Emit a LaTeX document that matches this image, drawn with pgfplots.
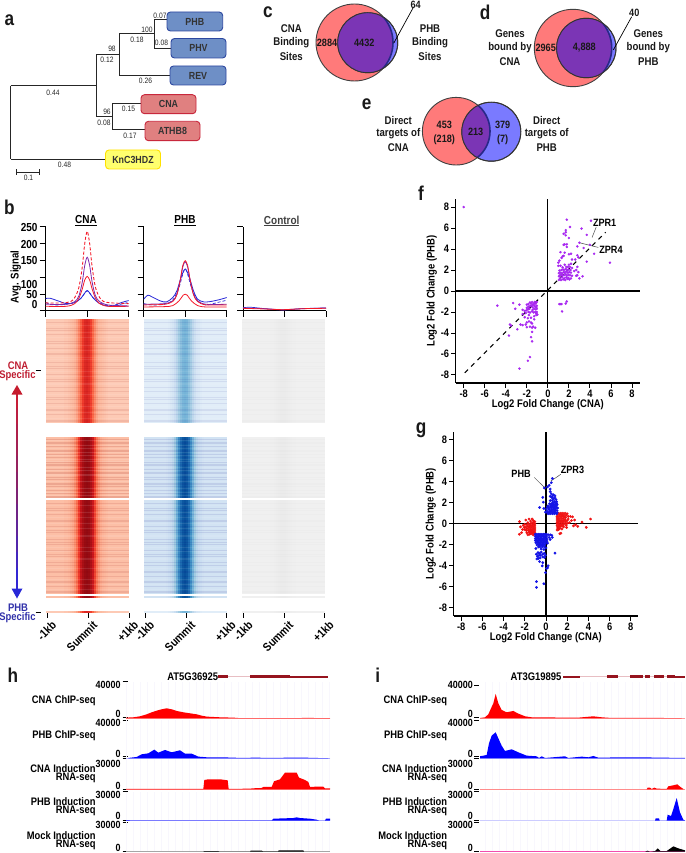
\documentclass[border=0pt]{standalone}
\usepackage{fontspec}
\usepackage{pgfplots}
\usepackage{pgfplotstable}
\pgfplotsset{compat=1.18}
\setmainfont{Liberation Sans}[FakeStretch=0.86]
\newcommand\fs[1]{\fontsize{#1}{#1}\selectfont}

\definecolor{vred}{RGB}{255,122,122}
\definecolor{vblue}{RGB}{122,122,255}
\definecolor{vpurple}{RGB}{123,53,181}
\definecolor{boxblue}{RGB}{110,143,198}
\definecolor{boxbluee}{RGB}{45,72,160}
\definecolor{boxred}{RGB}{224,128,128}
\definecolor{boxrede}{RGB}{200,40,60}
\definecolor{boxyel}{RGB}{255,255,110}
\definecolor{boxyele}{RGB}{255,225,0}
\definecolor{cnared}{RGB}{190,30,50}
\definecolor{phbblue}{RGB}{50,50,170}
\definecolor{genered}{RGB}{150,20,30}
\definecolor{genepale}{RGB}{232,190,195}
\definecolor{sigred}{RGB}{245,25,40}
\definecolor{sigpurple}{RGB}{125,40,170}
\definecolor{sigblue}{RGB}{40,40,215}
\definecolor{ptpurple}{RGB}{168,40,240}
\definecolor{ptblue}{RGB}{20,20,230}
\definecolor{ptred}{RGB}{240,20,20}
\definecolor{trackgrid}{RGB}{248,247,253}

\pgfplotsset{
  colormap={hreds}{rgb255=(255,245,240) rgb255=(254,224,210) rgb255=(252,187,161) rgb255=(252,146,114) rgb255=(251,106,74) rgb255=(239,59,44) rgb255=(203,24,29) rgb255=(165,15,21) rgb255=(103,0,13)},
  colormap={hblues}{rgb255=(247,251,255) rgb255=(222,235,247) rgb255=(198,219,239) rgb255=(158,202,225) rgb255=(107,174,214) rgb255=(66,146,198) rgb255=(33,113,181) rgb255=(8,81,156) rgb255=(8,48,107)},
  colormap={hgreys}{rgb255=(255,255,255) rgb255=(245,245,245) rgb255=(235,235,235) rgb255=(225,225,225) rgb255=(215,215,215) rgb255=(205,205,205) rgb255=(195,195,195) rgb255=(185,185,185) rgb255=(175,175,175)},
  colormap={arrowmap}{rgb255=(205,30,50) rgb255=(130,35,110) rgb255=(40,40,225)},
  pixel page/.style={at={(0pt,0pt)},anchor=south west,scale only axis,width=685pt,height=853pt,
    xmin=0,xmax=685,ymin=0,ymax=853,y dir=reverse,hide axis,clip=false},
  scatter panel/.style={anchor=south west,scale only axis,axis x line*=bottom,axis y line*=left,
    xtick={-8,-6,...,8},ytick={-8,-6,...,8},tick align=outside,major tick length=4.6pt,
    axis line style={line width=1.1pt,-},tick style={line width=.9pt,black},
    tick label style={font=\bfseries\fs{10.8},/pgf/number format/assume math mode=true},
    xticklabel style={yshift=1.5pt},yticklabel style={xshift=1.5pt},
    xlabel={\bfseries\fs{11}Log2 Fold Change (CNA)},ylabel={\bfseries\fs{11}Log2 Fold Change (PHB)},
    x label style={at={(axis description cs:.5,0)},anchor=center,yshift=-22pt},clip=false}
}

\pgfdeclareplotmark{strip}{%
  \pgfpathrectangle{\pgfqpoint{-1.3pt}{-\pgfplotmarksize}}{\pgfqpoint{2.6pt}{2\pgfplotmarksize}}%
  \pgfusepathqfill}

% heat map intensities across the window, one column per block type
\pgfplotstableread{
x y ra rb ba bb gr
-1.00 50 1.6 1.9 0.9 1.5 1.5
-0.95 50 1.6 1.9 0.9 1.5 1.5
-0.90 50 1.6 1.9 0.9 1.5 1.5
-0.85 50 1.6 1.9 0.9 1.5 1.5
-0.80 50 1.6 1.9 0.9 1.5 1.5
-0.75 50 1.6 1.9 0.9 1.5 1.5
-0.70 50 1.6 1.9 0.9 1.5 1.5
-0.65 50 1.6 1.9 0.9 1.5 1.5
-0.60 50 1.6 1.9 0.9 1.5 1.5
-0.55 50 1.7 2.0 0.9 1.5 1.5
-0.50 50 1.7 2.0 0.9 1.5 1.5
-0.45 50 1.8 2.1 0.9 1.6 1.5
-0.40 50 1.9 2.3 1.0 1.8 1.5
-0.35 50 2.0 2.5 1.2 2.0 1.5
-0.30 50 2.2 3.0 1.4 2.3 1.6
-0.25 50 2.6 3.8 1.8 3.0 1.6
-0.20 50 3.3 5.0 2.3 4.0 1.7
-0.15 50 4.2 6.2 2.9 5.2 1.8
-0.10 50 5.0 6.9 3.4 6.2 1.9
-0.05 50 5.5 7.2 3.7 6.8 2.0
 0.00 50 5.6 7.3 3.8 7.0 2.0
 0.05 50 5.4 7.2 3.7 6.8 2.0
 0.10 50 4.9 6.8 3.3 6.1 1.9
 0.15 50 4.0 6.0 2.8 5.0 1.8
 0.20 50 3.1 4.8 2.2 3.8 1.7
 0.25 50 2.5 3.6 1.7 2.9 1.6
 0.30 50 2.1 2.9 1.3 2.3 1.6
 0.35 50 2.0 2.4 1.2 2.0 1.5
 0.40 50 1.9 2.2 1.0 1.8 1.5
 0.45 50 1.8 2.1 0.9 1.6 1.5
 0.50 50 1.7 2.0 0.9 1.5 1.5
 0.55 50 1.6 1.9 0.9 1.5 1.5
 0.60 50 1.6 1.9 0.9 1.5 1.5
 0.65 50 1.6 1.9 0.9 1.5 1.5
 0.70 50 1.6 1.9 0.9 1.5 1.5
 0.75 50 1.6 1.9 0.9 1.5 1.5
 0.80 50 1.6 1.9 0.9 1.5 1.5
 0.85 50 1.6 1.9 0.9 1.5 1.5
 0.90 50 1.6 1.9 0.9 1.5 1.5
 0.95 50 1.6 1.9 0.9 1.5 1.5
 1.00 50 1.6 1.9 0.9 1.5 1.5
}\heatprof

% row positions of the darker and paler streaks
\pgfplotstableread[row sep=\\]{
y l r\\ 1.5 -1.03 1.03\\ 3 -1.03 1.03\\ 8 -1.03 1.03\\ 12 -1.03 1.03\\ 13.5 -1.03 1.03\\ 19 -1.03 1.03\\ 23 -1.03 1.03\\ 24.5 -1.03 1.03\\ 31 -1.03 1.03\\ 34 -1.03 1.03\\ 40 -1.03 1.03\\ 42 -1.03 1.03\\ 47 -1.03 1.03\\ 53 -1.03 1.03\\ 55 -1.03 1.03\\ 58 -1.03 1.03\\ 66 -1.03 1.03\\ 67.5 -1.03 1.03\\ 72 -1.03 1.03\\ 77 -1.03 1.03\\ 78.5 -1.03 1.03\\ 85 -1.03 1.03\\ 89 -1.03 1.03\\ 91 -1.03 1.03\\ 97 -1.03 1.03\\
}\streakdark
\pgfplotstableread[row sep=\\]{
y l r\\ 5 -1.03 1.03\\ 10 -1.03 1.03\\ 16 -1.03 1.03\\ 27.5 -1.03 1.03\\ 37 -1.03 1.03\\ 38.5 -1.03 1.03\\ 45 -1.03 1.03\\ 50 -1.03 1.03\\ 61 -1.03 1.03\\ 63 -1.03 1.03\\ 70 -1.03 1.03\\ 75 -1.03 1.03\\ 82 -1.03 1.03\\ 87 -1.03 1.03\\ 94 -1.03 1.03\\
}\streaklight

% genome browser tracks, x in window position, y in reads
\pgfplotstableread{
x y
378 730
400 1090
420 2180
440 4370
455 6550
470 8370
485 9830
500 10920
515 9830
530 8010
550 6550
570 5460
590 4370
605 2910
620 1820
640 1460
660 1090
700 730
712 360
720 180
800 180
930 360
990 180
}\hone
\pgfplotstableread{
x y
385 350
410 1390
425 4180
445 5220
463 9050
475 5920
495 8700
515 6260
540 8350
555 4870
575 4870
595 1740
620 1040
660 1040
700 700
720 350
770 700
800 350
880 700
910 700
950 350
990 0
}\htwo
\pgfplotstableread{
x y
378 330
610 330
613 9240
625 9900
660 9900
683 8910
686 330
750 660
760 990
785 1320
790 2310
815 2310
822 7920
840 9900
855 16500
890 16500
897 11550
915 9240
925 7260
930 2310
950 2640
970 2640
975 990
990 990
}\hthree
\pgfplotstableread{
x y
378 690
395 345
815 345
820 2070
850 2415
880 2760
890 3450
900 2760
930 2070
950 1035
958 0
975 0
978 2070
990 2070
}\hfour
\pgfplotstableread{
x y
610 0
612 600
655 600
658 0
750 0
752 1000
785 1000
790 300
834 300
836 1330
910 1330
912 0
}\hfive
\pgfplotstableread{
x y
405 360
420 1090
430 4370
438 10920
445 16380
452 26570
460 16380
470 9100
485 6550
505 8010
520 5100
540 2180
560 1090
580 1090
600 1090
650 730
700 730
745 2180
770 1090
800 360
950 360
1020 0
}\ione
\pgfplotstableread{
x y
405 2090
425 3480
432 15660
440 23660
452 27140
460 20880
470 13220
480 7660
500 9400
520 6260
545 2780
575 2090
582 350
590 2090
600 350
660 2090
670 350
710 1740
730 1040
745 2440
760 700
850 1040
880 1040
945 700
1020 350
}\itwo
\pgfplotstableread{
x y
905 0
908 1650
915 1650
920 330
928 1650
935 660
965 330
970 2970
985 3960
997 4950
1005 2640
1015 330
}\ithree
\pgfplotstableread{
x y
930 0
932 2415
942 2415
944 0
965 0
968 6210
978 4830
985 12075
995 23460
1005 8625
1015 1035
1020 345
}\ifour
\pgfplotstableread{
x y
900 0
908 1000
915 0
930 660
938 3330
946 660
965 660
985 5330
1000 3330
1020 1330
}\ifive

% one heat map block: left, top, width, height, half height, map, column, streak colour, streak opacity
\newcommand\heat[9]{%
\begin{axis}[at={(#1pt,{(853-#2)*1pt})},anchor=north west,scale only axis,width=#3pt,height=#4pt,
  xmin=-1.03,xmax=1.03,ymin=0,ymax=100,hide axis,colormap name=#6,point meta min=0,point meta max=8,clip mode=individual]
\addplot[scatter,only marks,mark=strip,mark size=#5pt,scatter src=explicit] table[x=x,y=y,meta=#7] {\heatprof};
\addplot[xcomb,draw=#8,opacity=#9,line width=.5pt] table[x=l,y=y] {\streakdark};
\addplot[xcomb,draw=#8,opacity=#9,line width=.5pt] table[x=r,y=y] {\streakdark};
\addplot[xcomb,draw=white,opacity=#9,line width=.5pt] table[x=l,y=y] {\streaklight};
\addplot[xcomb,draw=white,opacity=#9,line width=.5pt] table[x=r,y=y] {\streaklight};
\end{axis}}

% browser track: top, base, ymax, fill, baseline colour, table; window set by \trackh or \tracki
\newcommand\trackh{\def\tl{126}\def\tw{204}\def\xa{378}\def\xb{990}}
\newcommand\tracki{\def\tl{480}\def\tw{205}\def\xa{405}\def\xb{1020}}
\newcommand\track[6]{%
\begin{axis}[at={(\tl pt,{(853-#2)*1pt})},anchor=south west,scale only axis,width=\tw pt,height={(#2-#1)*1pt},
  xmin=\xa,xmax=\xb,ymin=0,ymax=#3,axis line style={draw=none},ytick=\empty,xtick distance=21,
  xticklabels={},major tick length=0pt,xmajorgrids,major grid style={trackgrid,line width=.8pt},clip=false]
\addplot[draw=#5,line width=.7pt] coordinates {(\xa,0) (\xb,0)};
\addplot[fill=#4,draw=none] table[x=x,y=y] {#6} \closedcycle;
\end{axis}}

% average signal panel: left, curves
\newcommand\profaxis[2]{%
\begin{axis}[at={(#1pt,{(853-311)*1pt})},anchor=south west,scale only axis,width=83pt,height=84pt,
  xmin=-1,xmax=1,ymin=0,ymax=250,axis x line*=bottom,axis y line*=left,xtick={-1,0,1},ytick={0,50,100,150,200,250},
  xticklabels={},yticklabels={},tick align=outside,major tick length=6pt,axis line style={line width=1pt,-},tick style={line width=1pt,black},clip=false]
#2
\end{axis}}

% small label helpers, used inside the page-wide axis
\newcommand\bt[4]{\node[font=\bfseries\fs{#1},text=black!90,inner sep=0pt] at (axis cs:#2,#3) {#4};}
\newcommand\bre[4]{\node[font=\bfseries\fs{#1},anchor=east,inner sep=0pt] at (axis cs:#2,#3) {#4};}
\newcommand\nb[3]{\node[font=\fs{7.8},text=black!85,inner sep=0pt] at (axis cs:#1,#2) {#3};}
\newcommand\gbox[7]{\filldraw[fill=#5,draw=#6,line width=.9pt,rounded corners=3.5pt] (axis cs:#1,#2) rectangle (axis cs:#3,#4);
  \node[font=\bfseries\fs{10.3},text=black!80,inner sep=0pt] at (axis cs:{(#1+#3)/2},{(#2+#4)/2}) {#7};}
\newcommand\rk[2]{\node[font=\bfseries\fs{11.8},rotate=45,anchor=north east,inner sep=0pt] at (axis cs:#1,620) {#2};}
\newcommand\venn[6]{% red x, y, r; blue x, y, r
\begin{scope}
\clip (axis cs:#4,#5) circle [radius=#6pt];
\fill[vpurple] (axis cs:#1,#2) circle [radius=#3pt];
\draw[phbblue!80!black,line width=1.6pt] (axis cs:#1,#2) circle [radius=#3pt];
\end{scope}
\draw[black!80,line width=.9pt] (axis cs:#4,#5) circle [radius=#6pt];}
\newcommand\tracklabels[4]{%
\bre{11}{#4}{677}{#3}
\bre{10.9}{#1}{700.7}{CNA ChIP-seq}
\bre{10.9}{#1}{736}{PHB ChIP-seq}
\bre{10.9}{#1}{768.5}{CNA Induction}
\bre{10.9}{#1}{778}{RNA-seq}
\bre{10.9}{#1}{801.3}{PHB Induction}
\bre{10.9}{#1}{811}{RNA-seq}
\bre{10.9}{#1}{835.7}{Mock Induction}
\bre{10.9}{#1}{845}{RNA-seq}
\bre{10.4}{#2}{685}{40000}
\bre{10.4}{#2}{713.5}{0}
\bre{10.4}{#2}{723}{40000}
\bre{10.4}{#2}{754}{0}
\bre{10.4}{#2}{764}{30000}
\bre{10.4}{#2}{785.7}{0}
\bre{10.4}{#2}{795}{30000}
\bre{10.4}{#2}{816}{0}
\bre{10.4}{#2}{825}{30000}
\bre{10.4}{#2}{848}{0}}

\begin{document}
\begin{tikzpicture}[x=1pt,y=1pt]
\path[use as bounding box] (0,0) rectangle (685pt,853pt);

% page-wide axis in image pixels: tree lines, Venn circles, ticks
\begin{axis}[pixel page]
\addplot[black!85,line width=1pt] table {
10.7 86
96 86

10.7 86
10.7 159.3

10.7 159.3
105 159.3

96 54.3
96 117

96 54.3
119.3 54.3

119.3 33.7
119.3 76

119.3 33.7
154.3 33.7

154.3 20
154.3 48.3

154.3 20
167 20

154.3 48.3
170.7 48.3

119.3 76
170 76

96 117
112.3 117

112.3 104
112.3 130

112.3 104
141 104

112.3 130
145 130

16.7 172.3
39 172.3

16.7 169.5
16.7 175

39 169.5
39 175
};
\addplot[only marks,mark=*,mark size=38.5pt,mark options={fill=vred,draw=black!75,line width=.9pt}] coordinates {(354.5,42.5)};
\addplot[only marks,mark=*,mark size=30pt,mark options={fill=vblue,draw=black!75,line width=.9pt}] coordinates {(367.7,42.7)};
\addplot[only marks,mark=*,mark size=38.7pt,mark options={fill=vred,draw=black!75,line width=.9pt}] coordinates {(573,48)};
\addplot[only marks,mark=*,mark size=29.7pt,mark options={fill=vblue,draw=black!75,line width=.9pt}] coordinates {(586.3,48)};
\addplot[only marks,mark=*,mark size=33.8pt,mark options={fill=vred,draw=black!75,line width=.9pt}] coordinates {(456.2,131.2)};
\addplot[only marks,mark=*,mark size=29.5pt,mark options={fill=vblue,draw=black!75,line width=.9pt}] coordinates {(491.3,131.7)};
\addplot[black,line width=1pt] table {
35.5 370
40.5 370

35.5 612
40.5 612
};
\addplot[mesh,point meta=y,colormap name=arrowmap,line width=2.2pt] table {
17 392
17 408
17 424
17 440
17 456
17 472
17 488
17 504
17 520
17 536
17 552
17 568
17 590
};
\addplot[fill=cnared!90!red,draw=none] coordinates {(17,385) (11.5,394.5) (22.5,394.5)} -- cycle;
\addplot[fill=sigblue,draw=none] coordinates {(17,598.5) (11.5,588.5) (22.5,588.5)} -- cycle;
\addplot[black,line width=1pt] table {
47 613
47 618

88 613
88 618

129 613
129 618

145 613
145 618

186 613
186 618

226.5 613
226.5 618

243.5 613
243.5 618

284 613
284 618

324.5 613
324.5 618
};
\addplot[black,line width=.8pt] table {
122.7 681.7
128 681.7

122.7 717.5
128 717.5

122.7 720
128 720

122.7 756
128 756

122.7 758.5
128 758.5

122.7 789
128 789

122.7 791.5
128 791.5

122.7 820
128 820

122.7 822
128 822

122.7 851.7
128 851.7

474.3 685
479.3 685

474.3 717.5
479.3 717.5

474.3 720
479.3 720

474.3 756
479.3 756

474.3 758.5
479.3 758.5

474.3 789
479.3 789

474.3 791.5
479.3 791.5

474.3 820
479.3 820

474.3 822
479.3 822

474.3 851.7
479.3 851.7
};
\end{axis}

% same page axis again, on top of the circles: overlaps, boxes and all text
\begin{axis}[pixel page]
\gbox{167}{12}{222.7}{31}{boxblue}{boxbluee}{PHB}
\gbox{171}{38.5}{226}{58}{boxblue}{boxbluee}{PHV}
\gbox{170}{66}{226}{85}{boxblue}{boxbluee}{REV}
\gbox{141}{94.7}{196}{113.7}{boxred}{boxrede}{CNA}
\gbox{145}{121.3}{200}{140.7}{boxred}{boxrede}{ATHB8}
\gbox{105.5}{150}{160.5}{169}{boxyel}{boxyele}{KnC3HDZ}
\nb{160}{16}{0.07}
\nb{161.5}{43}{0.08}
\nb{147}{29.5}{100}
\nb{137}{39.5}{0.18}
\nb{112}{49}{98}
\nb{107}{59.5}{0.12}
\nb{145.5}{81}{0.26}
\nb{53}{92.5}{0.44}
\nb{107}{112}{96}
\nb{104}{122.5}{0.08}
\nb{128.5}{108.5}{0.15}
\nb{130}{135.5}{0.17}
\nb{64.5}{165}{0.48}
\nb{28.5}{177.5}{0.1}

\venn{354.5}{42.5}{38.5}{367.7}{42.7}{30}
\venn{573}{48}{38.7}{586.3}{48}{29.7}
\venn{456.2}{131.2}{33.8}{491.3}{131.7}{29.5}
\bt{11.2}{291.3}{28.3}{CNA}
\bt{11.2}{291.3}{42.3}{Binding}
\bt{11.2}{291.3}{56}{Sites}
\bt{10.6}{327}{42.5}{2884}
\bt{10.6}{364.3}{42.5}{4432}
\bt{10.6}{415.7}{4.5}{64}
\bt{11.2}{430}{28.3}{PHB}
\bt{11.2}{430}{42.3}{Binding}
\bt{11.2}{430}{56}{Sites}
\bt{11.2}{510}{34}{Genes}
\bt{11.2}{510}{47.7}{bound by}
\bt{11.2}{510}{61.3}{CNA}
\bt{10.6}{545.7}{48}{2965}
\bt{10.6}{584.3}{48}{4,888}
\bt{10.6}{634.3}{13}{40}
\bt{11.2}{648.3}{34}{Genes}
\bt{11.2}{648.3}{47.7}{bound by}
\bt{11.2}{648.3}{61.3}{PHB}
\bt{11.2}{398.3}{120}{Direct}
\bt{11.2}{398.3}{134}{targets of}
\bt{11.2}{398.3}{147.3}{CNA}
\bt{10.6}{444.3}{125}{453}
\bt{10.6}{444.3}{139.3}{(218)}
\bt{10.6}{475.7}{131.7}{213}
\bt{10.6}{502.7}{125}{379}
\bt{10.6}{502.7}{139.3}{(7)}
\bt{11.2}{546.7}{120}{Direct}
\bt{11.2}{546.7}{134}{targets of}
\bt{11.2}{546.7}{147.3}{PHB}

\bt{20}{9.5}{20}{a}
\bt{20}{9.5}{207}{b}
\bt{20}{268}{12}{c}
\bt{20}{485}{12}{d}
\bt{20}{366.7}{104.3}{e}
\bt{20}{421}{193}{f}
\bt{20}{421}{430}{g}
\bt{20}{13}{675}{h}
\bt{20}{377.7}{675}{i}

\node[font=\bfseries\fs{11.6}] at (axis cs:86,221) {\underline{CNA}};
\node[font=\bfseries\fs{11.6}] at (axis cs:185,221) {\underline{PHB}};
\node[font=\bfseries\fs{11.6},text=black!75] at (axis cs:281.7,221) {\underline{Control}};
\node[font=\bfseries\fs{11.2},rotate=90] at (axis cs:15.7,277) {Avg. Signal};
\bre{11.6}{37.7}{227.7}{250}
\bre{11.6}{37.7}{244.3}{200}
\bre{11.6}{37.7}{261}{150}
\bre{11.6}{37.7}{284.3}{100}
\bre{11.6}{37.7}{294.3}{50}
\bre{11.6}{37.7}{305}{0}
\node[font=\bfseries\fs{11},text=cnared] at (axis cs:18,366) {CNA};
\node[font=\bfseries\fs{11},text=cnared] at (axis cs:17.5,376) {Specific};
\node[font=\bfseries\fs{11},text=phbblue] at (axis cs:18,608) {PHB};
\node[font=\bfseries\fs{11},text=phbblue] at (axis cs:17.5,618) {Specific};
\rk{51}{-1kb}
\rk{92}{Summit}
\rk{133}{+1kb}
\rk{149}{-1kb}
\rk{190}{Summit}
\rk{230.5}{+1kb}
\rk{247.5}{-1kb}
\rk{288}{Summit}
\rk{328.5}{+1kb}
\tracklabels{95.7}{120.7}{AT5G36925}{218.3}
\tracklabels{447.3}{473}{AT3G19895}{561.7}
\end{axis}

% heat maps
\heat{46}{319}{83}{104}{52}{hreds}{ra}{red!55!black}{0.09}
\heat{46}{437}{83}{61}{30.5}{hreds}{rb}{red!55!black}{0.13}
\heat{46}{500}{83}{94}{47}{hreds}{rb}{red!55!black}{0.1}
\heat{46}{596}{83}{2}{1}{hreds}{rb}{red!55!black}{0}
\heat{46}{611}{83}{2.5}{1.25}{hreds}{ra}{red!55!black}{0}
\heat{144}{319}{83}{104}{52}{hblues}{ba}{blue!50!black}{0.07}
\heat{144}{437}{83}{61}{30.5}{hblues}{bb}{blue!50!black}{0.09}
\heat{144}{500}{83}{94}{47}{hblues}{bb}{blue!50!black}{0.09}
\heat{144}{596}{83}{2}{1}{hblues}{bb}{blue!50!black}{0}
\heat{144}{611}{83}{2.5}{1.25}{hblues}{ba}{blue!50!black}{0}
\heat{242}{319}{83}{104}{52}{hgreys}{gr}{black}{0.012}
\heat{242}{437}{83}{61}{30.5}{hgreys}{gr}{black}{0.01}
\heat{242}{500}{83}{94}{47}{hgreys}{gr}{black}{0.01}
\heat{242}{596}{83}{2}{1}{hgreys}{gr}{black}{0}
\heat{242}{611}{83}{2.5}{1.25}{hgreys}{gr}{black}{0}

% average signal
\profaxis{45.7}{
\addplot[sigblue,densely dashed,line width=.7pt,smooth] coordinates {(-1,25) (-.8,18) (-.5,20) (-.3,26) (-.15,38) (0,60) (.15,38) (.3,24) (.5,16) (.8,20) (1,26)};
\addplot[sigblue,line width=.8pt,smooth] coordinates {(-1,37) (-.9,38) (-.7,30) (-.5,22) (-.3,25) (-.15,38) (-.05,55) (0,61) (.05,55) (.15,38) (.3,22) (.45,16) (.6,14) (.8,24) (.9,28) (1,31)};
\addplot[sigred,line width=.8pt,smooth] coordinates {(-1,14) (-.5,14) (-.3,22) (-.2,38) (-.12,65) (-.06,92) (0,103) (.06,92) (.12,65) (.2,38) (.3,22) (.5,14) (1,14)};
\addplot[sigpurple,line width=.8pt,smooth] coordinates {(-1,20) (-.5,20) (-.3,28) (-.2,45) (-.12,85) (-.06,135) (0,160) (.06,135) (.12,85) (.2,45) (.3,28) (.5,18) (1,15)};
\addplot[sigred,densely dashed,line width=.9pt,smooth] coordinates {(-1,24) (-.6,24) (-.4,28) (-.3,40) (-.2,70) (-.12,130) (-.06,200) (0,237) (.06,200) (.12,130) (.2,70) (.3,40) (.4,28) (.6,24) (1,22)};
}
\profaxis{143.7}{
\addplot[sigblue,densely dashed,line width=.7pt,smooth] coordinates {(-1,22) (-.8,18) (-.5,20) (-.3,32) (-.15,70) (0,125) (.15,70) (.3,30) (.5,18) (.8,26) (1,32)};
\addplot[sigblue,line width=.8pt,smooth] coordinates {(-1,35) (-.9,47) (-.8,42) (-.6,30) (-.45,27) (-.3,40) (-.2,60) (-.1,100) (0,125) (.1,100) (.2,60) (.3,35) (.45,27) (.6,28) (.8,33) (1,40)};
\addplot[sigred,line width=.8pt,smooth] coordinates {(-1,12) (-.5,13) (-.3,16) (-.15,30) (-.05,47) (0,50) (.05,47) (.15,30) (.3,16) (.5,12) (1,12)};
\addplot[sigpurple,line width=.8pt,smooth] coordinates {(-1,20) (-.5,22) (-.3,30) (-.2,50) (-.12,90) (-.06,130) (0,147) (.06,130) (.12,90) (.2,50) (.3,30) (.5,20) (1,20)};
\addplot[sigred,line width=.7pt,smooth] coordinates {(-1,18) (-.5,20) (-.3,28) (-.2,48) (-.12,92) (-.06,135) (0,150) (.06,135) (.12,92) (.2,48) (.3,28) (.5,18) (1,18)};
}
\profaxis{243}{
\addplot[sigblue,line width=.7pt,smooth] coordinates {(-1,10) (-.8,11) (-.4,6) (0,3) (.4,7) (1,9)};
\addplot[sigpurple,line width=.7pt,smooth] coordinates {(-1,9) (-.5,7) (-.1,4) (0,4) (.5,7) (1,9)};
\addplot[sigred,line width=.8pt,smooth] coordinates {(-1,8) (-.5,6) (-.1,4) (0,4) (.5,7) (1,8)};
}

% panel f
\begin{axis}[scatter panel,at={(455.7pt,{(853-383)*1pt})},width=184.3pt,height=184pt,
  xmin=-8.76,xmax=8.76,ymin=-8.77,ymax=8.77,
  y label style={at={(axis description cs:0,.5)},anchor=center,yshift=24pt}]
\addplot[only marks,mark=*,mark size=1.05pt,ptpurple,mark options={draw=none}] coordinates {
(-8,8) (1.8,6.8) (4.1,6.7) (2.1,6.1) (3.2,5.95) (1.7,5.8) (1.7,5.6) (1.5,5.45) (1.7,5.3) (3.7,5.35) (2,5.05) (1.6,4.45) (1.8,4.45) (1.5,4.4) (1.8,4.2) (3,4.6) (4,4.4) (2.8,4.25) (3.4,4.1) (1.6,3.65) (2,3.5) (2.2,3.55) (4.4,3.55) (1.2,3.7) (1.4,3.3) (1.5,3.35) (1.3,3.15) (1.1,2.9) (2.8,3.4) (2.9,3.2) (2.6,3) (3.7,2.8) (5.9,2.7) (2.3,3) (1,2.7) (1.2,2.4) (1,2.4) (2,2.5) (2.2,2.6) (1.6,2.5) (1.9,2.3) (2.3,2.2) (2.8,2.3) (2.7,2) (2.5,1.9) (2.9,1.8) (3.3,1.4) (3,1.2) (2.8,1.5) (2.7,1.45)
(1.05,1.05) (1.15,1.2) (1.25,1.05) (1.35,1.3) (1.45,1.1) (1.55,1.2) (1.65,1.05) (1.75,1.3) (1.85,1.15) (1.95,1.25) (2.05,1.1) (2.2,1.2) (1.05,1.4) (1.15,1.5) (1.3,1.55) (1.4,1.45) (1.55,1.5) (1.7,1.6) (1.8,1.45) (1.95,1.55) (2.1,1.5) (2.3,1.45) (1.05,1.7) (1.2,1.75) (1.35,1.7) (1.5,1.8) (1.6,1.75) (1.75,1.85) (1.9,1.75) (2.05,1.8) (2.2,1.75) (1.1,1.95) (1.3,2) (1.45,2.05) (1.55,2) (1.7,2.1) (1.85,2) (2,2.05) (2.15,2) (1.4,2.25) (1.75,2.3) (2.1,2.3)
(-4.8,-1.4) (-3.3,-1.15) (-2.7,-1.3) (-3.1,-1.7) (-2.4,-1.8) (-2.2,-1.9) (-2.4,-2.2) (-3.6,-3.2) (-3.5,-3.3) (-3.7,-4.25) (-2.9,-3.65) (-2.6,-3.2) (-2.4,-3.25) (-2.1,-3.2) (-2,-3) (-1.8,-2.9) (-2,-3.45) (-1.7,-3.4) (-1.4,-3.4) (-1.2,-3.5) (-1.6,-3) (-1.5,-3.1) (-1.5,-3.5) (-1.5,-3.9) (-1.6,-4.4) (-1.5,-4.8) (-1.7,-6.3) (-1.9,-6.65) (-2.7,-7.4) (-2.2,-2.5) (-1.9,-2.6) (-1.6,-2.55) (-1.3,-2.4) (-1.1,-2.3) (-1,-2.25) (-1.3,-2.7) (-1.8,-2.3) (-2.1,-2.1)
(-1.05,-1.05) (-1.15,-1.2) (-1.25,-1.05) (-1.35,-1.25) (-1.5,-1.05) (-1.6,-1.2) (-1.7,-1.1) (-1.85,-1.25) (-2,-1.3) (-1.05,-1.4) (-1.2,-1.5) (-1.3,-1.4) (-1.45,-1.55) (-1.7,-1.45) (-1.85,-1.5) (-2,-1.6) (-1.05,-1.7) (-1.15,-1.75) (-1.3,-1.7) (-1.45,-1.8) (-1.75,-1.7) (-1.9,-1.75) (-2.05,-1.85) (-1.05,-2) (-1.2,-2) (-1.35,-2.05) (-1.5,-1.95) (-1.7,-2.05) (-1.85,-2) (-1.1,-2.15) (-1.3,-1.15) (-1.45,-1.3) (-1.6,-1.4) (-1.1,-1.55)
(1.1,-1.25) (1.2,-1.25) (1.3,-1.25) (1.7,-1.2) (1.8,-1) (1.35,-1.95)
};
\addplot[black,line width=1.1pt] coordinates {(-8.76,0) (8.76,0)};
\addplot[black,line width=1.1pt] coordinates {(0,-8.77) (0,8.77)};
\addplot[black,line width=1.1pt,dash pattern=on 4.5pt off 4.5pt] coordinates {(-7.9,-7.8) (5.5,5.6)};
\addplot[black!70,line width=.5pt] coordinates {(4.2,5.1) (4.6,6.1)};
\addplot[black!70,line width=.5pt] coordinates {(3,4.6) (4.8,4.15)};
\node[font=\bfseries\fs{10.6}] at (axis cs:5.4,6.5) {ZPR1};
\node[font=\bfseries\fs{10.6}] at (axis cs:6,3.9) {ZPR4};
\end{axis}

% panel g
\begin{axis}[scatter panel,at={(453.7pt,{(853-616)*1pt})},width=184.3pt,height=184.3pt,
  xmin=-8.7,xmax=8.68,ymin=-8.77,ymax=8.75,
  y label style={at={(axis description cs:0,.5)},anchor=center,yshift=23pt}]
\addplot[only marks,mark=*,mark size=1.2pt,ptred,mark options={draw=none}] coordinates {
(4.2,.45) (3.4,.15) (3.8,-.35) (2.7,.35) (2.8,-.1) (3,-.25) (2.5,.65) (2.3,.7) (2.1,.7) (2.4,.3) (2.2,.1) (2.6,-.2) (2,.95) (1.8,1) (1.6,1) (1.4,1) (1.2,1) (1.05,1) (1.1,.85) (1.3,.85) (1.5,.85) (1.7,.85) (1.9,.8) (2.1,.45) (1.05,.7) (1.25,.7) (1.45,.7) (1.65,.7) (1.85,.6) (1.05,.55) (1.2,.5) (1.4,.55) (1.6,.5) (1.8,.4) (2,.3) (1.05,.35) (1.25,.35) (1.45,.35) (1.65,.3) (1.85,.2) (1.05,.15) (1.2,.2) (1.4,.15) (1.6,.1) (1.8,.05) (2,.05) (1.05,0) (1.25,-.05) (1.45,-.05) (1.65,-.1) (1.9,-.15) (1.05,-.2) (1.2,-.25) (1.4,-.25) (1.65,-.3) (1.1,-.4) (1.3,-.45) (1.5,-.5) (1.95,-.35) (1.05,-.6) (1.3,-.95) (1.4,-.9)
(1.15,.92) (1.35,.92) (1.55,.78) (1.75,.62) (1.15,.45) (1.35,.25) (1.55,.2) (1.15,.08) (1.35,-.15) (1.55,-.2) (1.15,-.32) (1.2,-.55)
(-2.5,.2) (-2.4,-.3) (-2.5,-1) (-2.3,-.85) (-2.2,-.55) (-2.15,-.15) (-1.9,.35) (-1.6,.45) (-1.3,.45) (-1.2,.3) (-1.45,.25) (-1.7,.1) (-2,-.05) (-1.8,-.1) (-1.6,-.05) (-1.4,.05) (-1.2,.1) (-1.05,.2) (-1.05,0) (-1.25,-.1) (-1.45,-.15) (-1.7,-.25) (-1.9,-.3) (-2.05,-.35) (-1.05,-.2) (-1.2,-.3) (-1.4,-.35) (-1.6,-.4) (-1.8,-.45) (-2,-.55) (-1.05,-.4) (-1.25,-.5) (-1.45,-.55) (-1.65,-.6) (-1.85,-.65) (-1.05,-.6) (-1.2,-.7) (-1.4,-.75) (-1.6,-.8) (-1.8,-.85) (-1.05,-.8) (-1.2,-.9) (-1.4,-.95) (-1.05,-1) (-1.2,-1.05) (-1.55,-1) (-1.7,-1.05)
(-1.15,-.05) (-1.3,-.22) (-1.55,-.28) (-1.15,-.48) (-1.35,-.62) (-1.55,-.7) (-1.15,-.82) (-1.3,-.85) (-1.5,-.9)
};
\addplot[only marks,mark=*,mark size=1.2pt,ptblue,mark options={draw=none}] coordinates {
(.6,4.3) (.5,3.9) (.3,3.65) (.15,3.5) (-.15,3.4) (.4,3.3) (.4,3.05) (.5,2.85) (.7,2.75) (.85,2.65) (-.3,2.5) (.4,2.6) (.55,2.5) (.75,2.4) (.95,2.3) (-.25,2.05) (.4,2.2) (.6,2.2) (.8,2.1) (1,2.1) (-.6,1.55) (.15,1.6) (.35,1.9) (.5,1.9) (.7,1.85) (.9,1.85) (1.05,1.8) (-.2,1.45) (.05,1.4) (.2,1.7) (.4,1.6) (.6,1.65) (.8,1.6) (1,1.55) (1.1,1.5) (-.05,1.1) (.1,1.2) (.3,1.35) (.5,1.4) (.7,1.35) (.9,1.3) (1.05,1.25) (.15,1.05) (.3,1.1) (.45,1.15) (.6,1.1) (.75,1.1) (.9,1.05) (1.05,1.05) (.2,.95) (.4,.95) (.6,.95) (.8,.95) (1,.95) (.55,1.25) (.25,1.5) (.85,1.45) (.65,2) (.45,1.75) (.75,1.75)
(.7,1.5) (.95,1.7) (.35,1.2) (.8,1.2) (.5,1.55) (.6,1.78) (.85,2) (1,1.95) (.65,2.35) (.85,2.45) (.6,2.62)
(-1,-1) (-.85,-1) (-.7,-1) (-.55,-1) (-.4,-1) (-.25,-1) (-.1,-1) (.05,-1) (.2,-1.05) (.4,-1.05) (.55,-1.1) (-1,-1.2) (-.85,-1.2) (-.7,-1.2) (-.55,-1.2) (-.4,-1.2) (-.25,-1.2) (-.1,-1.2) (.05,-1.25) (.3,-1.3) (.6,-1.3) (-1,-1.4) (-.85,-1.4) (-.7,-1.4) (-.55,-1.4) (-.4,-1.4) (-.25,-1.4) (-.1,-1.4) (.1,-1.45) (.4,-1.5) (-1,-1.6) (-.85,-1.6) (-.7,-1.6) (-.55,-1.6) (-.4,-1.6) (-.25,-1.6) (-.1,-1.6) (.1,-1.65) (-.95,-1.8) (-.8,-1.8) (-.65,-1.8) (-.5,-1.8) (-.35,-1.8) (-.2,-1.8) (-.05,-1.8) (.15,-1.85) (-.85,-2) (-.7,-2) (-.55,-2) (-.4,-2) (-.25,-2) (-.1,-2) (-.7,-2.2) (-.55,-2.2) (-.35,-2.2) (-.15,-2.2) (-.95,-2.35) (-.45,-2.4) (-.2,-2.45) (0,-2.3)
(-.92,-1.1) (-.62,-1.1) (-.32,-1.1) (-.02,-1.1) (-.78,-1.3) (-.48,-1.3) (-.18,-1.3) (-.92,-1.5) (-.62,-1.5) (-.32,-1.5) (-.02,-1.5) (-.78,-1.7) (-.48,-1.7) (-.18,-1.7) (-.58,-1.9) (-.28,-1.9) (-.62,-2.1) (-.32,-2.1)
(-.75,-2.75) (-.9,-2.9) (-.6,-2.8) (-.45,-2.7) (-.8,-3.1) (-.65,-3) (-.5,-3) (-.3,-2.9) (-.15,-2.8) (-.05,-3) (.85,-2.8) (-.85,-3.35) (-.7,-3.3) (-.55,-3.25) (-.3,-3.15) (-.15,-3.2) (-.6,-3.6) (-.3,-3.7) (-.35,-4) (.2,-4) (.15,-4.2) (.05,-4.25) (-.05,-4.65) (-.9,-5.5) (-.9,-6.05) (-.2,-5.7)
};
\addplot[black,line width=1.1pt] coordinates {(-8.7,0) (8.68,0)};
\addplot[black,line width=1.1pt] coordinates {(0,-8.77) (0,8.75)};
\addplot[black!70,line width=.5pt] coordinates {(-1.1,4.4) (-.1,3.4)};
\addplot[black!70,line width=.5pt] coordinates {(1.4,4.7) (.45,4.05)};
\node[font=\bfseries\fs{10.6}] at (axis cs:-2.35,4.7) {PHB};
\node[font=\bfseries\fs{10.6}] at (axis cs:2.5,5.1) {ZPR3};
\end{axis}

% panel h tracks
\trackh
\track{681.7}{718.3}{40000}{red}{red!35}{\hone}
\track{720}{758.3}{40000}{blue}{blue!25}{\htwo}
\track{759}{789.3}{30000}{red}{red!45}{\hthree}
\track{791.7}{820.7}{30000}{blue}{blue!25}{\hfour}
\track{821.7}{851.7}{30000}{black}{black!35}{\hfive}
% panel i tracks
\tracki
\track{681.7}{718.3}{40000}{red}{red!30}{\ione}
\track{720}{758.3}{40000}{blue}{blue!25}{\itwo}
\track{759}{789.3}{30000}{red}{red!45}{\ithree}
\track{791.7}{820.7}{30000}{blue}{blue!20}{\ifour}
\track{821.7}{851.7}{30000}{black}{magenta!70}{\ifive}

% gene models and the leader lines of the Venn counts
\begin{axis}[pixel page]
\addplot[black,line width=.7pt] coordinates {(413,8) (394,42.7)};
\addplot[black,line width=.7pt] coordinates {(631.7,16.7) (613.3,50)};
\addplot[genepale,line width=1.2pt] table {
218 676.7
328 676.7

563 676.7
685 676.7
};
\addplot[genered,line width=2.6pt] table {
218 676.7
228 676.7

250 676.7
290 676.7

607 676.7
618 676.7

630 676.7
643 676.7

645 676.7
650 676.7

654 676.7
664 676.7

667 676.7
675 676.7
};
\addplot[genered,line width=1.6pt] table {
290 676.7
328 676.7

563 676.7
580 676.7

675 676.7
685 676.7
};
\end{axis}
\end{tikzpicture}
\end{document}
